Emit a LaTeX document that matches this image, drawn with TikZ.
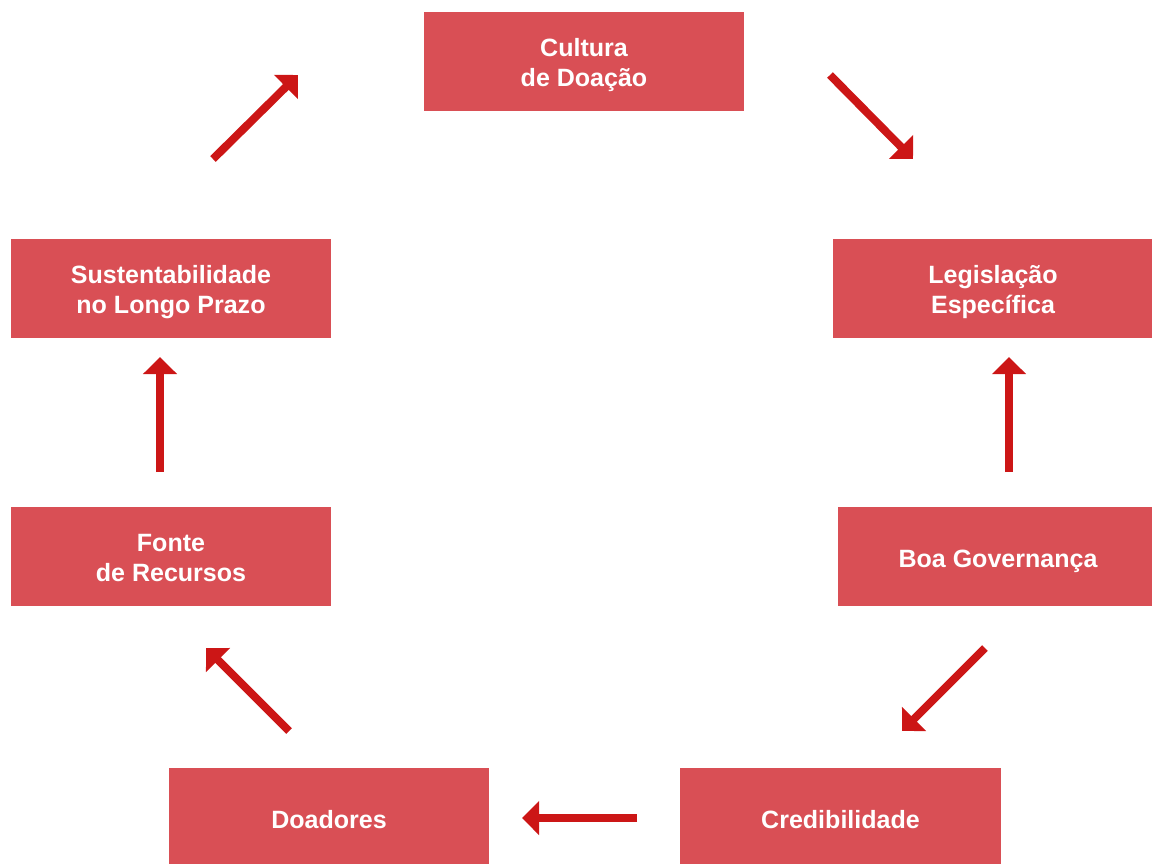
\documentclass[tikz,border=0pt]{standalone}
\usepackage{fontspec}
\setmainfont{Liberation Sans}
\usetikzlibrary{arrows.meta,positioning}
\definecolor{cbox}{HTML}{D94F55}
\definecolor{carrow}{HTML}{CC1616}
\newcommand{\topo}{\rule{0pt}{19pt}}

\begin{document}
\begin{tikzpicture}[x=0.025cm,y=-0.025cm,
  font=\fontsize{17.8}{21.3}\selectfont\bfseries,
  etapa/.style={fill=cbox,text=white,minimum width=8cm,minimum height=2.475cm,
                align=center,inner sep=0pt,
                execute at begin node=\rule{0pt}{21pt},
                execute at end node=\rule[-5pt]{0pt}{5pt}},
  seta/.style={-{Triangle[width=8.25mm,length=4.25mm]},draw=carrow,line width=5.7pt}]
\useasboundingbox (0,0) rectangle (1152,863);
\node[etapa] (cult) at (584,61.5)   {\topo Cultura\\de Doação};
\node[etapa] (legis) at (993,288.5) {\topo Legislação\\Específica};
\node[etapa] (gov) at (998,556.5) {Boa Governança};
\node[etapa] (cred) at (840.5,817.5) {Credibilidade};
\node[etapa] (doad) at (329,817.5)   {Doadores};
\node[etapa] (fonte) at (171,556.5)  {\topo Fonte\\de Recursos};
\node[etapa] (sust) at (171,288.5)   {\topo Sustentabilidade\\no Longo Prazo};
% pontas das setas
\coordinate (s1a) at (830,75);   \coordinate (s1b) at (913,159);
\coordinate (s2a) at (1009,472); \coordinate (s2b) at (1009,357);
\coordinate (s3a) at (985,648);  \coordinate (s3b) at (902,731);
\coordinate (s4a) at (637,818);  \coordinate (s4b) at (522,818);
\coordinate (s5a) at (289,731);  \coordinate (s5b) at (206,648);
\coordinate (s6a) at (160,472);  \coordinate (s6b) at (160,357);
\coordinate (s7a) at (213,159);  \coordinate (s7b) at (298,75);
\foreach \i in {1,...,7}
  \draw[seta] (s\i a) -- (s\i b);
\end{tikzpicture}
\end{document}
